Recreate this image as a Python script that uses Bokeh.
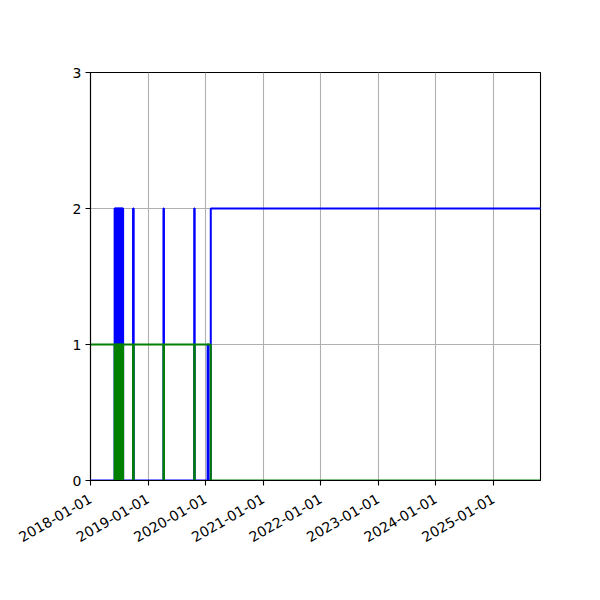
import math
import pandas as pd
from bokeh.plotting import figure
from bokeh.models import FixedTicker, DatetimeTickFormatter, Range1d
from bokeh.embed import file_html
from bokeh.resources import INLINE

# ---- data ----
blue_dates = [
    "2018-01-01",
    "2018-06-03", "2018-06-05", "2018-06-07", "2018-06-09", "2018-06-11", "2018-06-13",
    "2018-06-15", "2018-06-17", "2018-06-19", "2018-06-21", "2018-06-23", "2018-06-25",
    "2018-06-27", "2018-06-29", "2018-07-01", "2018-07-03", "2018-07-05", "2018-07-07",
    "2018-07-09", "2018-07-11", "2018-07-13", "2018-07-15", "2018-07-17", "2018-07-19",
    "2018-07-21", "2018-07-23", "2018-07-25", "2018-07-27",
    "2018-09-28", "2018-10-02",
    "2019-04-09", "2019-04-12",
    "2019-10-21", "2019-10-24",
    "2020-01-14", "2020-01-19",
    "2020-02-03",
    "2025-10-26",
]
blue_values = [
    0,
    2, 0, 2, 1, 2, 0,
    2, 0, 2, 1, 2, 0,
    2, 0, 2, 1, 2, 0,
    2, 0, 2, 1, 2, 0,
    2, 0, 2, 0,
    2, 0,
    2, 0,
    2, 0,
    1, 0,
    2,
    2,
]

green_dates = [
    "2018-01-01",
    "2018-06-03", "2018-06-05", "2018-06-07", "2018-06-09", "2018-06-11", "2018-06-13",
    "2018-06-15", "2018-06-17", "2018-06-19", "2018-06-21", "2018-06-23", "2018-06-25",
    "2018-06-27", "2018-06-29", "2018-07-01", "2018-07-03", "2018-07-05", "2018-07-07",
    "2018-07-09", "2018-07-11", "2018-07-13", "2018-07-15", "2018-07-17", "2018-07-19",
    "2018-07-21", "2018-07-23", "2018-07-25", "2018-07-27",
    "2018-09-28", "2018-10-02",
    "2019-04-09", "2019-04-12",
    "2019-10-21", "2019-10-24",
    "2020-02-03",
    "2025-10-26",
]
green_values = [
    1,
    0, 1, 0, 1, 0, 1,
    0, 1, 0, 1, 0, 1,
    0, 1, 0, 1, 0, 1,
    0, 1, 0, 1, 0, 1,
    0, 1, 0, 1,
    0, 1,
    0, 1,
    0, 1,
    0,
    0,
]

x_tick_labels = ["2018-01-01", "2019-01-01", "2020-01-01", "2021-01-01",
                 "2022-01-01", "2023-01-01", "2024-01-01", "2025-01-01"]
y_ticks = [0, 1, 2, 3]
x_start = "2018-01-01"
x_end = "2025-10-26"

# ---- figure ----
FONT = "DejaVu Sans"
p = figure(
    x_axis_type="datetime",
    frame_width=450, frame_height=408,
    min_border_left=90, min_border_right=44, min_border_top=72, min_border_bottom=104,
    output_backend="svg", toolbar_location=None,
    x_range=Range1d(pd.Timestamp(x_start), pd.Timestamp(x_end)),
    y_range=Range1d(0, 3),
)
p.background_fill_color = "white"
p.border_fill_color = "white"
p.outline_line_color = "black"
p.outline_line_width = 1.1

tick_ms = [pd.Timestamp(s).value // 10**6 for s in x_tick_labels]
p.xaxis.ticker = FixedTicker(ticks=tick_ms)
fmt = "%Y-%m-%d"
p.xaxis.formatter = DatetimeTickFormatter(
    years=fmt, months=fmt, days=fmt, hours=fmt, minutes=fmt, seconds=fmt,
    milliseconds=fmt, microseconds=fmt, hourmin=fmt, minsec=fmt)
p.xaxis.major_label_orientation = math.pi / 6
p.yaxis.ticker = FixedTicker(ticks=y_ticks)

for ax in (p.xaxis, p.yaxis):
    ax.major_label_text_font = FONT
    ax.major_label_text_font_size = "14px"
    ax.major_label_text_color = "black"
    ax.axis_line_color = "black"
    ax.axis_line_width = 1.1
    ax.major_tick_line_color = "black"
    ax.major_tick_line_width = 1.1
    ax.major_tick_in = 0
    ax.major_tick_out = 5
    ax.minor_tick_line_color = None
    ax.major_label_standoff = 4
p.xaxis.major_label_standoff = 12

for g in (p.xgrid, p.ygrid):
    g.grid_line_color = "#b0b0b0"
    g.grid_line_width = 1.1
p.xgrid.ticker = FixedTicker(ticks=tick_ms)
p.ygrid.ticker = FixedTicker(ticks=y_ticks)

p.step(pd.to_datetime(blue_dates), blue_values, mode="after",
       line_color="blue", line_width=2)
p.step(pd.to_datetime(green_dates), green_values, mode="after",
       line_color="green", line_width=2)

open("out.html", "w").write(file_html(p, INLINE))
